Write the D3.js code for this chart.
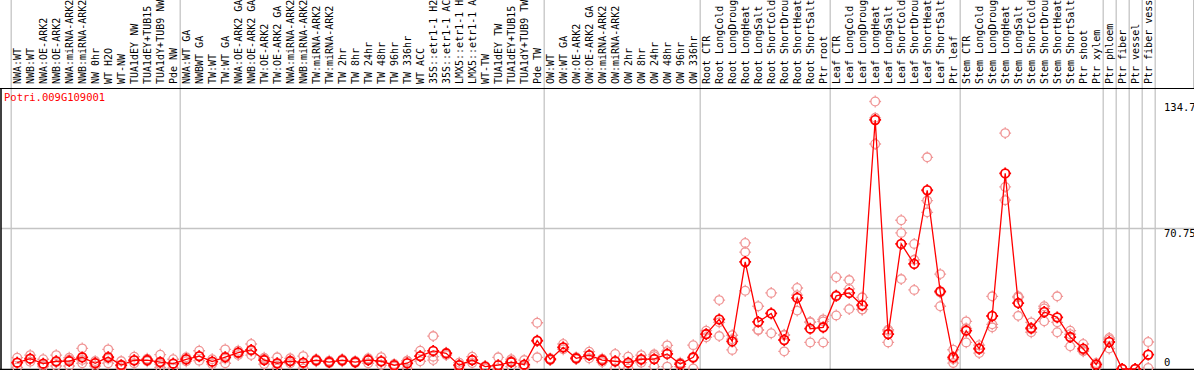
<!DOCTYPE html>
<html>
<head>
<meta charset="utf-8">
<script src="https://cdn.jsdelivr.net/npm/d3@7"></script>
<style>
  body { margin: 0; background: #fff; }
  text { font-family: "DejaVu Sans Mono", monospace; }
</style>
</head>
<body>
<div id="chart"></div>
<script>
// sample labels, in column order
var labels = [
  "NWA:WT", "NWB:WT", "NWA:OE-ARK2", "NWB:OE-ARK2", "NWA:miRNA-ARK2", "NWB:miRNA-ARK2",
  "NW 0hr", "WT H2O", "WT-NW", "TUA1dEY NW", "TUA1dEY+TUB15 NW", "TUA1dY+TUB9 NW", "Pde NW",
  "NWA:WT GA", "NWBWT GA", "TW:WT", "TW:WT GA", "NWA:OE-ARK2 GA", "NWB:OE-ARK2 GA",
  "TW:OE-ARK2", "TW:OE-ARK2 GA", "NWA:miRNA-ARK2 GA", "NWB:miRNA-ARK2 GA", "TW:miRNA-ARK2",
  "TW:miRNA-ARK2 GA", "TW 2hr", "TW 8hr", "TW 24hr", "TW 48hr", "TW 96hr", "TW 336hr",
  "WT ACC", "35S::etr1-1 H2O", "35S::etr1-1 ACC", "LMX5::etr1-1 H2O", "LMX5::etr1-1 ACC",
  "WT-TW", "TUA1dEY TW", "TUA1dEY+TUB15 TW", "TUA1dY+TUB9 TW", "Pde TW",
  "OW:WT", "OW:WT GA", "OW:OE-ARK2", "OW:OE-ARK2 GA", "OW:miRNA-ARK2", "OW:miRNA-ARK2 GA",
  "OW 2hr", "OW 8hr", "OW 24hr", "OW 48hr", "OW 96hr", "OW 336hr",
  "Root CTR", "Root LongCold", "Root LongDrought", "Root LongHeat", "Root LongSalt",
  "Root ShortCold", "Root ShortDrought", "Root ShortHeat", "Root ShortSalt", "Ptr root",
  "Leaf CTR", "Leaf LongCold", "Leaf LongDrought", "Leaf LongHeat", "Leaf LongSalt",
  "Leaf ShortCold", "Leaf ShortDrought", "Leaf ShortHeat", "Leaf ShortSalt", "Ptr leaf",
  "Stem CTR", "Stem LongCold", "Stem LongDrought", "Stem LongHeat", "Stem LongSalt",
  "Stem ShortCold", "Stem ShortDrought", "Stem ShortHeat", "Stem ShortSalt", "Ptr shoot",
  "Ptr xylem", "Ptr phloem", "Ptr fiber", "Ptr vessel", "Ptr fiber vessel"
];

// number of samples in each experiment block
var groupSizes = [13, 28, 12, 10, 10, 11, 1, 1, 1, 1];

// mean expression per sample
var means = [
  3.2, 5.2, 2.7, 3.9, 4.0, 5.9, 2.9, 6.0, 2.0, 4.4, 4.5, 3.5, 2.7,
  4.9, 6.5, 3.7, 6.0, 8.2, 9.6, 4.5, 2.9, 4.0, 3.2, 4.4, 3.5, 4.4, 3.5, 4.5, 3.9, 1.9,
  2.9, 6.5, 9.1, 7.9, 1.9, 4.5, 1.2, 1.9, 3.5, 2.2, 14.3,
  4.9, 10.9, 5.4, 7.0, 4.5, 3.9, 3.2, 4.9, 5.0, 7.6, 2.5, 5.9,
  17.6, 25.0, 13.9, 53.9, 23.7, 28.0, 14.6, 35.8, 20.3, 21.0,
  36.8, 38.3, 32.1, 125.4, 17.6, 63.0, 52.9, 90.0, 39.1, 5.9,
  19.3, 10.2, 26.7, 98.5, 33.2, 20.6, 28.7, 26.0, 16.1, 10.2, 2.2,
  13.6, 0, 0, 7.2
];

// individual replicates per sample
var reps = [
  [5.7, 3.2, 0.8], [7.0, 5.0, 3.7], [4.9, 2.0, 1.2], [7.0, 3.5, 1.5], [5.7, 4.8, 1.5],
  [10.4, 4.5, 2.9], [4.0, 3.2, 1.5], [9.9, 5.2, 2.9], [4.0, 1.5, 0.4], [6.2, 4.2, 2.9],
  [5.2, 4.5, 3.9], [7.2, 2.5, 0.8], [4.9, 2.8, 0.4],
  [5.9, 4.9, 3.9], [9.2, 6.2, 4.2], [4.9, 3.7, 2.5], [9.9, 5.2, 2.9], [9.2, 8.4, 7.0],
  [12.6, 9.2, 7.0], [5.7, 5.2, 2.5], [5.9, 2.5, 0.3], [5.4, 4.0, 2.9], [6.5, 2.8, 0.3],
  [4.9, 4.4, 3.9], [4.2, 3.5, 2.9], [4.9, 4.4, 3.9], [4.0, 3.5, 3.0], [5.4, 5.0, 2.9],
  [6.0, 3.7, 2.0], [2.5, 2.0, 1.2], [4.2, 4.0, 0.3], [9.2, 6.5, 3.9], [16.6, 6.2, 4.5],
  [8.2, 7.9, 7.0], [3.2, 2.0, 0.3], [6.2, 4.5, 3.0], [1.5, 1.2, 0.3], [5.9, 0.3, 0],
  [4.9, 4.0, 1.2], [4.5, 1.5, 0.8], [23.3, 14.0, 5.9],
  [5.4, 4.9, 4.5], [12.6, 10.9, 9.9], [5.9, 5.4, 5.0], [8.7, 7.0, 5.4], [5.2, 4.5, 3.5],
  [7.6, 3.8, 0.3], [6.2, 3.0, 0.3], [7.0, 4.5, 3.2], [7.4, 6.5, 1.2], [11.9, 9.0, 1.2],
  [3.2, 2.5, 1.2], [12.0, 5.5, 0.3],
  [19.3, 17.5, 16.0], [34.7, 23.5, 16.6], [17.0, 15.0, 9.6], [63.5, 58.9, 39.4],
  [31.6, 19.8, 19.5], [38.3, 28.0, 18.0], [17.3, 17.0, 8.9], [40.8, 37.2, 29.4],
  [23.7, 23.5, 13.4], [25.0, 24.0, 13.4],
  [46.2, 37.2, 27.0], [44.8, 40.3, 30.2], [36.1, 30.0, 29.9], [134.7, 126.5, 113.3],
  [19.8, 19.2, 13.4], [74.9, 68.5, 45.3], [63.0, 55.0, 39.8], [106.6, 84.8, 78.9],
  [47.8, 38.5, 31.6], [9.7, 5.0, 3.0],
  [24.0, 20.5, 13.4], [12.0, 10.5, 8.0], [36.6, 22.5, 21.0], [118.8, 91.7, 85.0],
  [36.6, 36.0, 26.8], [23.5, 20.0, 18.5], [31.6, 30.5, 24.0], [36.6, 23.5, 18.5],
  [19.3, 17.5, 11.4], [12.6, 9.2, 8.9], [3.0, 2.5, 1.0],
  [15.6, 14.9, 10.3], [0, 0, 0], [0, 0, 0], [13.6, 0.5]
];

var geneName = "Potri.009G109001";
var yTicks = ["134.7", "70.75", "0"];

var width = 1194, height = 370;
var headerH = 88;

var svg = d3.select("#chart").append("svg")
  .attr("width", width)
  .attr("height", height)
  .style("display", "block");

var x = d3.scaleBand()
  .domain(d3.range(labels.length))
  .range([10.7, 1154.7]);

var y = d3.scaleLinear()
  .domain([0, 141.5])
  .range([369, headerH]);

// group separators
var bounds = [0];
groupSizes.forEach(function (s) { bounds.push(bounds[bounds.length - 1] + s); });

svg.append("g")
  .selectAll("line")
  .data(bounds)
  .join("line")
  .attr("x1", function (d) { return d < labels.length ? x(d) + 0.5 : x(labels.length - 1) + x.bandwidth() + 0.5; })
  .attr("x2", function (d) { return d < labels.length ? x(d) + 0.5 : x(labels.length - 1) + x.bandwidth() + 0.5; })
  .attr("y1", 0)
  .attr("y2", height)
  .attr("stroke", "#c4c4c4")
  .attr("stroke-width", 1.3);

// right edge of header
svg.append("line")
  .attr("x1", 1193.5).attr("x2", 1193.5)
  .attr("y1", 0).attr("y2", headerH)
  .attr("stroke", "#c4c4c4");

// midline grid
svg.append("line")
  .attr("x1", 1).attr("x2", width)
  .attr("y1", y(70.75)).attr("y2", y(70.75))
  .attr("stroke", "#c4c4c4")
  .attr("stroke-width", 1.3);

// frame
svg.append("line")
  .attr("x1", 0).attr("x2", width)
  .attr("y1", headerH + 0.5).attr("y2", headerH + 0.5)
  .attr("stroke", "#000");
svg.append("line")
  .attr("x1", 1).attr("x2", 1)
  .attr("y1", headerH).attr("y2", height)
  .attr("stroke", "#000")
  .attr("stroke-width", 1.5);
svg.append("line")
  .attr("x1", 0).attr("x2", width)
  .attr("y1", 369.5).attr("y2", 369.5)
  .attr("stroke", "#000")
  .attr("stroke-width", 1.5);

// rotated sample labels
svg.append("g")
  .selectAll("text")
  .data(labels)
  .join("text")
  .attr("transform", function (d, i) {
    return "translate(" + (x(i) + x.bandwidth() / 2) + ",84) rotate(-90)";
  })
  .attr("dy", "0.36em")
  .attr("font-size", "10px")
  .attr("fill", "#000")
  .text(function (d) { return d; });

// gene name
svg.append("text")
  .attr("x", 4)
  .attr("y", 101)
  .attr("font-size", "10.5px")
  .attr("fill", "#ff0000")
  .text(geneName);

// y labels
svg.append("text").attr("x", 1164).attr("y", y(134.7) + 9)
  .attr("font-size", "10.5px").text(yTicks[0]);
svg.append("text").attr("x", 1164).attr("y", y(70.75) + 8.5)
  .attr("font-size", "10.5px").text(yTicks[1]);
svg.append("text").attr("x", 1164).attr("y", 366)
  .attr("font-size", "10.5px").text(yTicks[2]);

function marker(r) {
  var t = 1.6;
  return "M" + (-r) + ",0A" + r + "," + r + " 0 1,0 " + r + ",0A" + r + "," + r + " 0 1,0 " + (-r) + ",0" +
    "M0," + (-r) + "V" + (-r - t) + "M0," + r + "V" + (r + t) +
    "M" + (-r) + ",0H" + (-r - t) + "M" + r + ",0H" + (r + t);
}

var cx = function (i) { return x(i) + x.bandwidth() / 2; };

// replicates
var repPts = [];
reps.forEach(function (arr, i) {
  arr.forEach(function (v) { repPts.push({ i: i, v: v }); });
});

svg.append("g")
  .selectAll("path")
  .data(repPts)
  .join("path")
  .attr("transform", function (d) { return "translate(" + cx(d.i) + "," + y(d.v) + ")"; })
  .attr("d", marker(4.3))
  .attr("fill", "none")
  .attr("stroke", "#f09595")
  .attr("stroke-width", 1.3);

// mean line
var line = d3.line()
  .x(function (d, i) { return cx(i); })
  .y(function (d) { return y(d); });

svg.append("path")
  .datum(means)
  .attr("d", line)
  .attr("fill", "none")
  .attr("stroke", "#ff0000")
  .attr("stroke-width", 1.3);

svg.append("g")
  .selectAll("path")
  .data(means)
  .join("path")
  .attr("transform", function (d, i) { return "translate(" + cx(i) + "," + y(d) + ")"; })
  .attr("d", marker(4.3))
  .attr("fill", "none")
  .attr("stroke", "#ff0000")
  .attr("stroke-width", 1.8);
</script>
</body>
</html>
